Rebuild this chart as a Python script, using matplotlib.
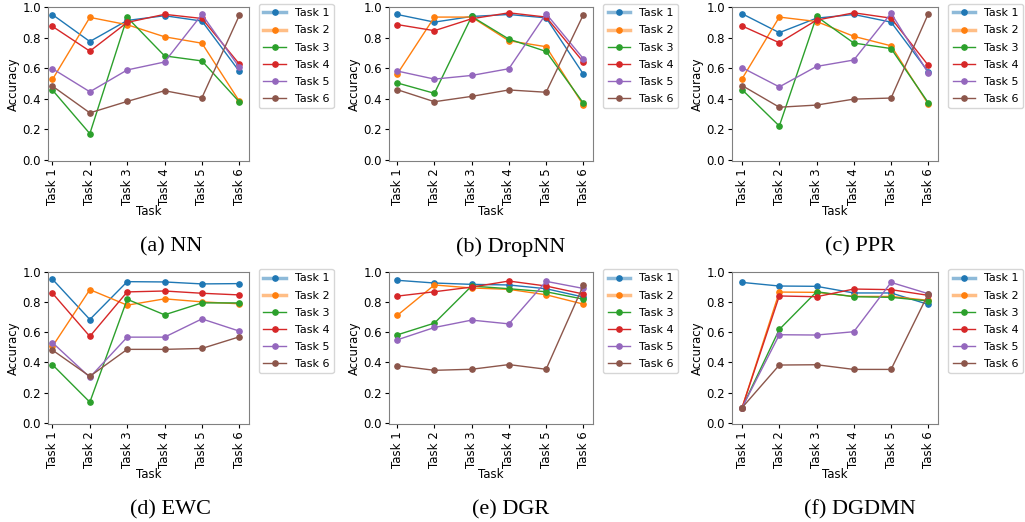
import matplotlib
matplotlib.use("Agg")
import matplotlib.pyplot as plt
from matplotlib.colors import to_rgba

# accuracy on each task (rows: Task 1..6) after training on task k (columns)
tasks = ["Task 1", "Task 2", "Task 3", "Task 4", "Task 5", "Task 6"]

nn = [
    [0.95, 0.774, 0.912, 0.943, 0.908, 0.579],
    [0.526, 0.932, 0.884, 0.805, 0.763, 0.384],
    [0.456, 0.171, 0.932, 0.680, 0.647, 0.379],
    [0.873, 0.711, 0.899, 0.952, 0.925, 0.627],
    [0.596, 0.445, 0.588, 0.640, 0.952, 0.605],
    [0.482, 0.307, 0.382, 0.452, 0.406, 0.945],
]
dropnn = [
    [0.951, 0.901, 0.938, 0.951, 0.929, 0.561],
    [0.561, 0.934, 0.934, 0.779, 0.740, 0.358],
    [0.503, 0.435, 0.938, 0.790, 0.709, 0.371],
    [0.885, 0.845, 0.923, 0.962, 0.934, 0.640],
    [0.581, 0.528, 0.552, 0.596, 0.956, 0.662],
    [0.459, 0.380, 0.415, 0.457, 0.442, 0.949],
]
ppr = [
    [0.956, 0.832, 0.927, 0.951, 0.901, 0.576],
    [0.530, 0.934, 0.905, 0.808, 0.746, 0.364],
    [0.459, 0.221, 0.938, 0.764, 0.728, 0.373],
    [0.876, 0.766, 0.914, 0.962, 0.927, 0.618],
    [0.603, 0.477, 0.611, 0.653, 0.960, 0.567],
    [0.486, 0.344, 0.358, 0.397, 0.404, 0.956],
]
ewc = [
    [0.952, 0.685, 0.936, 0.934, 0.921, 0.923],
    [0.507, 0.883, 0.780, 0.822, 0.802, 0.789],
    [0.385, 0.137, 0.819, 0.716, 0.795, 0.795],
    [0.859, 0.573, 0.868, 0.874, 0.859, 0.848],
    [0.531, 0.302, 0.568, 0.568, 0.689, 0.608],
    [0.482, 0.308, 0.487, 0.487, 0.493, 0.570],
]
dgr = [
    [0.945, 0.927, 0.918, 0.914, 0.889, 0.834],
    [0.712, 0.914, 0.894, 0.885, 0.849, 0.787],
    [0.583, 0.661, 0.907, 0.889, 0.869, 0.820],
    [0.840, 0.869, 0.900, 0.940, 0.907, 0.854],
    [0.550, 0.632, 0.681, 0.656, 0.938, 0.891],
    [0.379, 0.348, 0.355, 0.386, 0.355, 0.911],
]
dgdmn = [
    [0.931, 0.907, 0.905, 0.861, 0.861, 0.785],
    [0.100, 0.867, 0.865, 0.838, 0.838, 0.812],
    [0.100, 0.619, 0.869, 0.836, 0.832, 0.808],
    [0.100, 0.841, 0.836, 0.887, 0.883, 0.845],
    [0.100, 0.584, 0.582, 0.604, 0.931, 0.856],
    [0.100, 0.383, 0.385, 0.354, 0.354, 0.856],
]

panels = [nn, dropnn, ppr, ewc, dgr, dgdmn]
captions = ["(a) NN", "(b) DropNN", "(c) PPR", "(d) EWC", "(e) DGR", "(f) DGDMN"]

W, H = 1025, 522
fig = plt.figure(figsize=(W / 100, H / 100), dpi=100)

# axes boxes in pixels: (left, right) per column, (top, bottom) per row
col_x = [(48, 249), (389, 593), (732, 938)]
row_y = [(7, 161), (272, 424)]
x_left_pad = [0.12, 0.22, 0.27, 0.12, 0.22, 0.27]
cap_y = [247, 510]
cap_x = [171, 511, 860]

colors = plt.rcParams["axes.prop_cycle"].by_key()["color"]

for i, data in enumerate(panels):
    r, c = divmod(i, 3)
    x0, x1 = col_x[c]
    y0, y1 = row_y[r]
    ax = fig.add_axes([x0 / W, 1 - y1 / H, (x1 - x0) / W, (y1 - y0) / H])
    for k, row in enumerate(data):
        ax.plot(tasks, row, "-o", color=colors[k], lw=1, ms=3.8, label=tasks[k])
    ax.set_ylim(-0.008, 1.0)
    ax.set_xlim(-x_left_pad[i], 5.26)
    ax.set_yticks([0.0, 0.2, 0.4, 0.6, 0.8, 1.0])
    ax.tick_params(axis="x", labelrotation=90, labelsize=8.5, length=3, pad=2)
    ax.tick_params(axis="y", labelsize=8.5, length=3, pad=2)
    ax.set_xlabel("Task", fontsize=8.5, labelpad=0)
    ax.set_ylabel("Accuracy", fontsize=8.5, labelpad=2)
    for sp in ax.spines.values():
        sp.set_color("0.5")
    leg = ax.legend(loc="upper left", bbox_to_anchor=(1.05, 1.02), fontsize=8,
                    borderaxespad=0.0, handlelength=2.0, labelspacing=0.64)
    # the first two legend keys look thick and pale in the source
    for k in (0, 1):
        ln = leg.get_lines()[k]
        ln.set_color(to_rgba(colors[k], 0.5))
        ln.set_linewidth(2.5)
        ln.set_markerfacecolor(colors[k])
        ln.set_markeredgecolor(colors[k])
    fig.text(cap_x[c] / W, 1 - cap_y[r] / H, captions[i], ha="center", va="center",
             fontsize=16, family="Liberation Serif")

fig.savefig("out.png", dpi=100)
